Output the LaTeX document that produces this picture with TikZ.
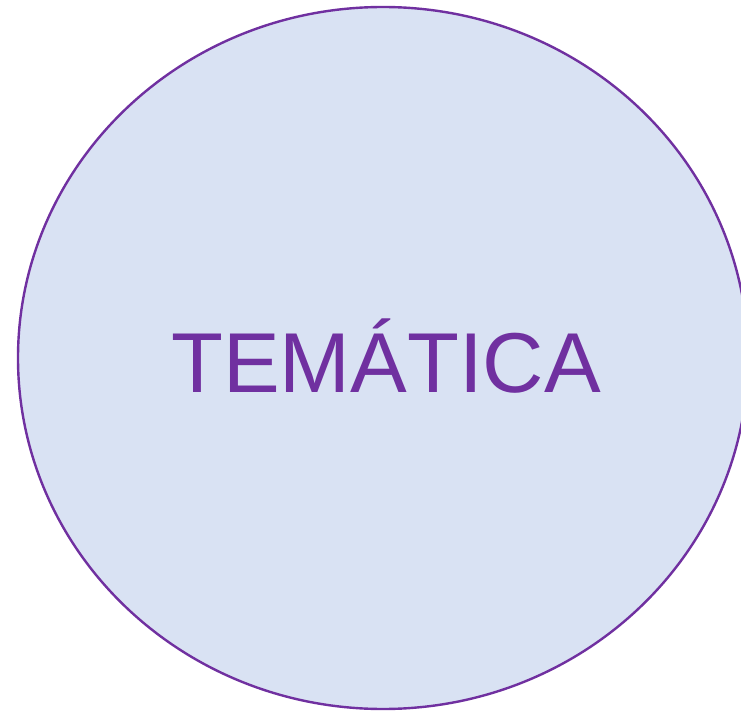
\documentclass[tikz,border=0pt]{standalone}
\usepackage{fontspec}
\setmainfont{Liberation Sans}
\usetikzlibrary{shapes.geometric}
\definecolor{temafill}{HTML}{D9E2F3}
\definecolor{temaline}{HTML}{7030A0}
\tikzset{
  temablock/.style={ellipse, draw=temaline, fill=temafill, line width=2.4pt,
    inner sep=0pt, minimum width=730pt, minimum height=702pt,
    text=temaline, font=\fontsize{85pt}{90pt}\selectfont}
}
\begin{document}
\begin{tikzpicture}[x=1pt, y=1pt]
  \useasboundingbox (0,0) rectangle (741,-711);
  \clip (0,0) rectangle (741,-711);
  % central topic
  \node[temablock] (tema) at (383,-358) {};
  \node[text=temaline, font=\fontsize{85pt}{90pt}\selectfont, inner sep=0pt]
    (titulo) at ([xshift=3pt, yshift=2pt]tema.center) {TEMÁTICA};
\end{tikzpicture}
\end{document}
